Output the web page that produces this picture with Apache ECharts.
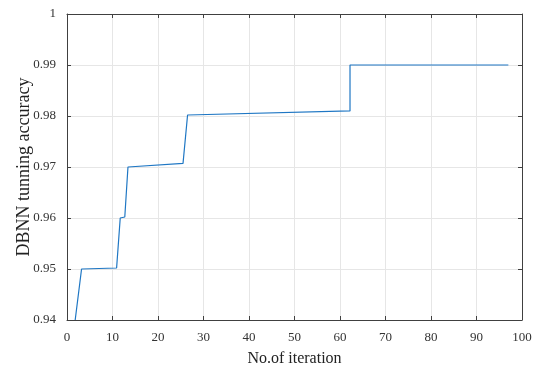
<!DOCTYPE html>
<html><head><meta charset="utf-8">
<script src="https://cdn.jsdelivr.net/npm/echarts@6/dist/echarts.min.js"></script>
<style>html,body{margin:0;padding:0;background:#fff;}#c{width:538px;height:371px;}</style>
</head><body><div id="c"></div>
<script>
const iterations = [1.8, 3.2, 10.9, 11.7, 12.7, 13.4, 25.5, 26.5, 62.2, 62.2, 97];
const accuracy   = [0.94, 0.95, 0.9502, 0.96, 0.9602, 0.97, 0.9707, 0.9802, 0.981, 0.99, 0.99];
const xTicks = [0,10,20,30,40,50,60,70,80,90,100];
const yTicks = [0.94,0.95,0.96,0.97,0.98,0.99,1];

const data = iterations.map((x,i)=>[x, accuracy[i]]);
const font = 'Liberation Serif';
const axisColor = '#404040';
const chart = echarts.init(document.getElementById('c'));
const common = {
  axisLine:{show:true, onZero:false, lineStyle:{color:axisColor, width:1}},
  axisTick:{show:true, inside:true, length:4, lineStyle:{color:axisColor}},
};
chart.setOption({
  animation:false,
  grid:{left:67, right:16, top:14, bottom:51, containLabel:false, outerBoundsMode:'none'},
  xAxis:[{
    type:'value', min:0, max:100, interval:10, position:'bottom',
    ...common,
    axisLabel:{color:'#333', fontFamily:font, fontSize:13, margin:11},
    splitLine:{show:true, lineStyle:{color:'#e6e6e6', width:1}},
    name:'No.of iteration', nameLocation:'middle', nameGap:31, nameMoveOverlap:false,
    nameTextStyle:{color:'#222', fontFamily:font, fontSize:16}
  },{
    type:'value', min:0, max:100, interval:10, position:'top',
    ...common, axisLabel:{show:false}, splitLine:{show:false}
  }],
  yAxis:[{
    type:'value', min:0.94, max:1, interval:0.01, position:'left',
    ...common,
    axisLabel:{color:'#333', fontFamily:font, fontSize:13, margin:11,
      formatter:v=>Math.abs(v-1)<1e-9?'1':v.toFixed(2)},
    splitLine:{show:true, lineStyle:{color:'#e6e6e6', width:1}},
    name:'DBNN tunning accuracy', nameLocation:'middle', nameGap:34, nameMoveOverlap:false,
    nameTextStyle:{color:'#222', fontFamily:font, fontSize:18}
  },{
    type:'value', min:0.94, max:1, interval:0.01, position:'right',
    ...common, axisLabel:{show:false}, splitLine:{show:false}
  }],
  series:[{
    type:'line', data:data, showSymbol:false, symbol:'none',
    lineStyle:{color:'#1f77c4', width:1.2}
  }]
});
</script></body></html>
